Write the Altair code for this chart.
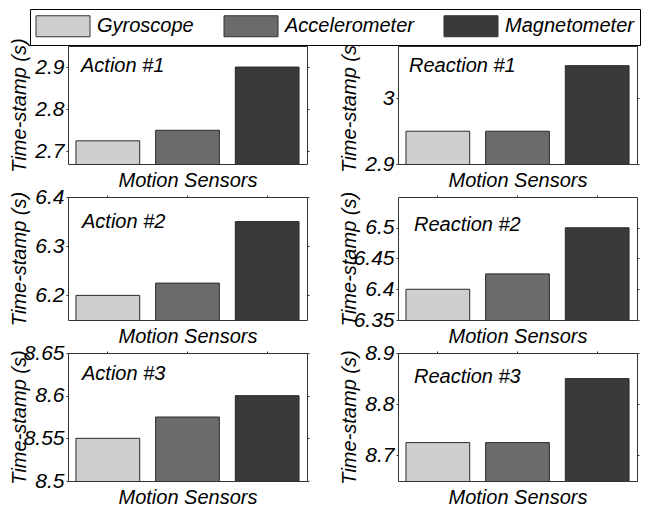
import altair as alt
import pandas as pd

FONT = "Liberation Sans"

# ---- data ----
sensors = ["Gyroscope", "Accelerometer", "Magnetometer"]
colors = ["#cfcfcf", "#6b6b6b", "#3a3a3a"]

panel_titles = ["Action #1", "Reaction #1", "Action #2", "Reaction #2", "Action #3", "Reaction #3"]
action1 = [2.725, 2.75, 2.9]
reaction1 = [2.95, 2.95, 3.05]
action2 = [6.2, 6.225, 6.35]
reaction2 = [6.4, 6.425, 6.5]
action3 = [8.55, 8.575, 8.6]
reaction3 = [8.725, 8.725, 8.85]
series = [action1, reaction1, action2, reaction2, action3, reaction3]

y_domains = [[2.67, 2.95], [2.9, 3.08], [6.15, 6.4], [6.35, 6.55], [8.5, 8.65], [8.65, 8.9]]
y_ticks = [[2.7, 2.8, 2.9], [2.9, 3.0], [6.2, 6.3, 6.4], [6.35, 6.4, 6.45, 6.5],
           [8.5, 8.55, 8.6, 8.65], [8.7, 8.8, 8.9]]

x_title = "Motion Sensors"
y_title = "Time-stamp (s)"

# ---- layout / style ----
panel_w = 239
row_heights = [118, 123, 128]
label_dx = [13, 11, 14, 16, 14, 16]
label_dy = [10, 10, 15, 18, 11, 14]

legend = alt.Legend(
    title=None, orient="none", legendX=-38, legendY=-37, direction="horizontal",
    symbolType="M-2.5714,-1H2.5714V1H-2.5714Z", symbolSize=441, symbolOffset=16,
    symbolStrokeColor="#333333", symbolStrokeWidth=1, symbolOpacity=1,
    labelFont=FONT, labelFontStyle="italic", labelFontSize=20, labelColor="black",
    labelOffset=23, columnPadding=28, padding=6,
    strokeColor="black", fillColor="white",
)


def panel(i):
    df = pd.DataFrame({"sensor": sensors, "time": series[i]})
    xscale = alt.Scale(paddingInner=0.2, paddingOuter=0.1)
    yscale = alt.Scale(domain=y_domains[i], zero=False, nice=False)
    bars = alt.Chart(df).mark_bar(stroke="#2a2a2a", strokeWidth=1, clip=True).encode(
        x=alt.X(
            "sensor:N", sort=sensors, scale=xscale,
            axis=alt.Axis(
                title=x_title, labels=False, ticks=False, domain=False, grid=False,
                titlePadding=6, titleFont=FONT, titleFontSize=20, titleFontStyle="italic",
                titleFontWeight="normal", titleColor="black", titleBaseline="top",
            ),
        ),
        y=alt.Y(
            "time:Q", scale=yscale,
            axis=alt.Axis(
                title=y_title, values=y_ticks[i], format="~g", grid=False, domain=False,
                ticks=True, tickSize=2, tickColor="#333333", labelPadding=2,
                labelFont=FONT, labelFontSize=21, labelFontStyle="italic", labelColor="black",
                labelOverlap=False, labelFlush=False,
                titleFont=FONT, titleFontSize=20, titleFontStyle="italic",
                titleFontWeight="normal", titleColor="black",
                titleX=-49, titleBaseline="middle", titleAngle=270,
            ),
        ),
        color=alt.Color("sensor:N", sort=sensors,
                        scale=alt.Scale(domain=sensors, range=colors), legend=legend),
    )
    # mirror ticks on the top and right edges of the box
    mirror = alt.Chart(df).mark_bar(opacity=0, clip=True).encode(
        x=alt.X("sensor:N", sort=sensors, scale=xscale,
                axis=alt.Axis(orient="top", title=None, labels=False, domain=False, grid=False,
                              ticks=True, tickSize=2, tickColor="#333333")),
        y=alt.Y("time:Q", scale=yscale,
                axis=alt.Axis(orient="right", title=None, labels=False, domain=False, grid=False,
                              values=y_ticks[i], ticks=True, tickSize=2, tickColor="#333333")),
    )
    lab = alt.Chart(pd.DataFrame({"label": [panel_titles[i]]})).mark_text(
        align="left", baseline="top", font=FONT, fontStyle="italic", fontSize=20, color="black"
    ).encode(text="label:N", x=alt.value(label_dx[i]), y=alt.value(label_dy[i]))
    return (
        alt.layer(bars, mirror, lab)
        .resolve_axis(x="independent", y="independent")
        .properties(width=panel_w, height=row_heights[i // 2])
    )


panels = [panel(i) for i in range(6)]

chart = (
    alt.concat(*panels, columns=2, spacing={"row": 33, "column": 91},
               bounds="flush", align="each")
    .resolve_scale(x="independent", y="independent", color="shared")
    .properties(padding=0, background="white")
    .configure_view(stroke="#333333", strokeWidth=1, fill="white")
)

chart.save("out.html", embed_options={"renderer": "svg", "actions": False})
